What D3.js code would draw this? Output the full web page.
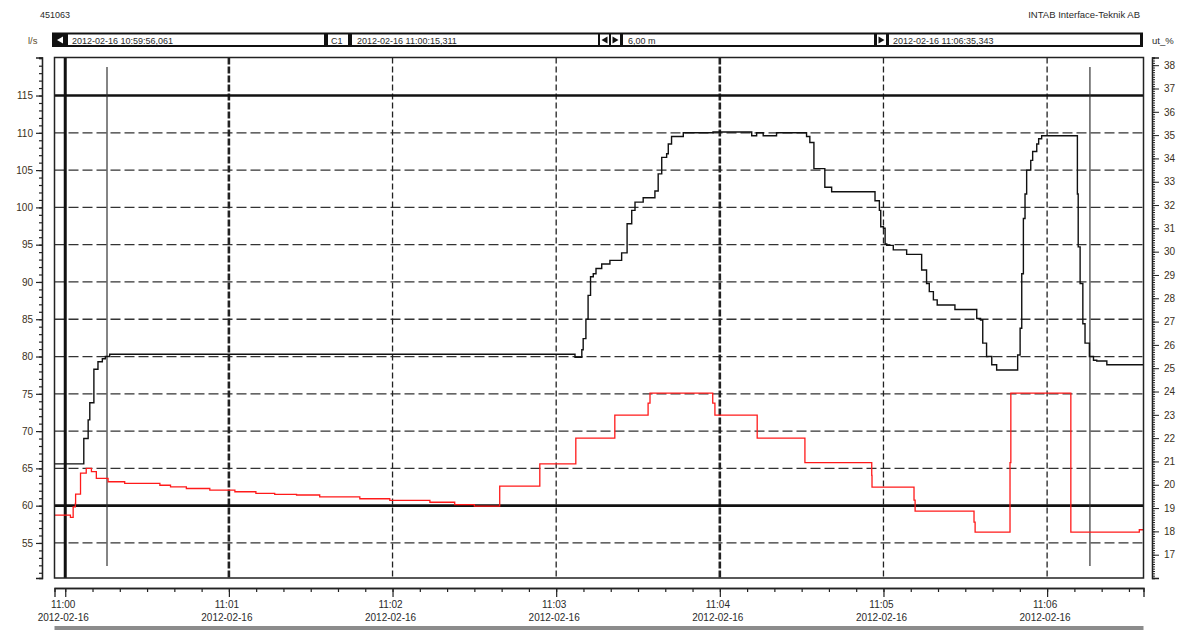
<!DOCTYPE html>
<html>
<head>
<meta charset="utf-8">
<script src="https://cdn.jsdelivr.net/npm/d3@7"></script>
<style>
  body { margin: 0; background: #fff; }
  text { font-family: "Liberation Sans", Arial, sans-serif; fill: #2a2a2a; }
</style>
</head>
<body>
<svg id="chart" width="1189" height="630"></svg>
<script>
// seconds from 11:00:00, flow in l/s (left axis)
const flowTimes = [-3.9, 6.8, 8.4, 9.0, 10.5, 12.0, 13.6, 14.7, 16.3, 186.9, 189.4, 189.9, 190.9, 191.7, 192.6, 193.6,
  194.6, 196.7, 199.7, 204.0, 206.0, 207.7, 208.9, 211.9, 216.2, 217.4, 218.7, 220.5, 221.1, 222.3, 226.6, 237.5,
  251.7, 253.5, 255.9, 260.8, 271.8, 273.0, 274.5, 278.5, 281.0, 296.9, 298.5, 299.0, 300.0, 300.6, 301.2, 303.6,
  308.5, 314.0, 315.8, 316.8, 318.3, 319.7, 326.2, 334.2, 335.6, 336.4, 337.8, 339.7, 341.5, 349.2, 350.1, 350.7,
  351.3, 351.9, 352.5, 354.0, 354.7, 356.2, 356.9, 358.0, 371.1, 371.4, 372.1, 373.1, 373.9, 375.5, 377.0, 378.2,
  381.9, 395.3];
const flowValues = [65.6, 69.0, 71.5, 73.8, 78.3, 79.3, 79.7, 80.0, 80.3, 79.9, 80.9, 82.4, 85.0, 88.2, 90.7, 91.1,
  91.8, 92.4, 92.9, 93.9, 97.8, 99.6, 100.7, 101.3, 102.2, 104.5, 106.7, 107.2, 108.5, 109.5, 110.0, 110.1,
  109.6, 110.0, 109.6, 110.0, 109.5, 108.7, 105.2, 102.7, 102.1, 100.9, 99.6, 97.4, 97.2, 95.1, 94.9, 94.3,
  93.7, 91.6, 89.8, 88.7, 87.6, 86.9, 86.3, 85.1, 84.9, 81.8, 80.0, 78.9, 78.2, 80.2, 83.8, 91.1,
  98.5, 101.8, 105.0, 106.3, 107.5, 108.5, 109.2, 109.6, 101.8, 94.7, 89.8, 84.4, 81.8, 80.0, 79.5, 79.4,
  78.9, 78.9];

// seconds from 11:00:00, output in ut_% (right axis)
const outTimes = [-3.9, 1.9, 2.9, 3.7, 3.8, 5.6, 7.7, 9.6, 11.4, 15.7, 21.8, 34.7, 38.6, 44.4, 53.0, 62.2, 69.9,
  76.8, 84.8, 93.3, 108.0, 119.0, 133.7, 142.8, 150.0, 159.3, 174.0, 187.2, 201.5, 213.7, 214.4, 237.4, 238.2,
  253.7, 271.2, 295.7, 295.8, 311.2, 311.6, 333.2, 333.6, 346.4, 346.7, 368.7, 393.8, 395.3];
const outValues = [18.7, 18.6, 19.05, 19.2, 19.6, 20.5, 20.7, 20.56, 20.27, 20.13, 20.06, 19.98, 19.91, 19.84,
  19.77, 19.7, 19.63, 19.59, 19.56, 19.48, 19.4, 19.33, 19.25, 19.15, 19.08, 19.94, 20.9, 22.0, 22.99, 23.5, 23.93,
  23.5, 22.99, 22.0, 20.95, 20.4, 19.9, 19.34, 18.87, 18.4, 17.97, 20.95, 23.93, 17.97, 18.07, 18.07];

const leftTicks = [55, 60, 65, 70, 75, 80, 85, 90, 95, 100, 105, 110, 115];
const limitValues = [60, 115];
const rightTicks = d3.range(17, 39);
const minuteTicks = [0, 60, 120, 180, 240, 300, 360];
const minuteLabels = ["11:00", "11:01", "11:02", "11:03", "11:04", "11:05", "11:06"];
const dateLabel = "2012-02-16";
const cursorTimes = [15.311, 375.7];
const headerFields = ["2012-02-16 10:59:56,061", "2012-02-16 11:00:15,311", "6,00 m", "2012-02-16 11:06:35,343"];

const svg = d3.select("#chart");
const plot = {left: 54.5, right: 1143.5, top: 57.5, bottom: 578};

const x = d3.scaleLinear().domain([-3.94, 395.34]).range([plot.left, plot.right]);
const yL = d3.scaleLinear().domain([50.3, 120.1]).range([plot.bottom, plot.top]);
const yR = d3.scaleLinear().domain([16, 38.33]).range([plot.bottom, plot.top]);

// header texts
svg.append("text").attr("x", 40).attr("y", 18).style("font-size", "9px").text("451063");
svg.append("text").attr("x", 1140).attr("y", 18).attr("text-anchor", "end").style("font-size", "9.5px")
  .text("INTAB Interface-Teknik AB");
svg.append("text").attr("x", 28).attr("y", 44).style("font-size", "9.5px").style("fill", "#5a4a2a").text("l/s");
svg.append("text").attr("x", 1152).attr("y", 44).style("font-size", "9.5px").text("ut_%");

// header strip
const strip = svg.append("g");
strip.append("rect").attr("x", 52).attr("y", 32.5).attr("width", 1091).attr("height", 14.5).attr("fill", "#111");
const boxes = [
  {x: 68, w: 256}, {x: 328, w: 20}, {x: 352, w: 246},
  {x: 600, w: 9}, {x: 611, w: 9}, {x: 623, w: 251}, {x: 877, w: 9}, {x: 889, w: 251}
];
boxes.forEach(b => strip.append("rect").attr("x", b.x).attr("y", 34.5).attr("width", b.w).attr("height", 10.5).attr("fill", "#fff"));
const tri = (cx, dir, col) => {
  const p = dir < 0 ? [[cx + 3, 36.5], [cx - 3, 40], [cx + 3, 43.5]] : [[cx - 3, 36.5], [cx + 3, 40], [cx - 3, 43.5]];
  strip.append("path").attr("d", d3.line()(p) + "Z").attr("fill", col);
};
tri(60, -1, "#fff"); tri(604.5, -1, "#111"); tri(615.5, 1, "#111"); tri(881.5, 1, "#111");
svg.append("text").attr("x", 331).attr("y", 43.8).style("font-size", "9px").text("C1");
[72, 357, 628, 893].forEach((tx, i) => {
  svg.append("text").attr("x", tx).attr("y", 43.8).style("font-size", "9px").text(headerFields[i]);
});

// grid
const grid = svg.append("g");
leftTicks.filter(v => !limitValues.includes(v)).forEach(v => {
  grid.append("line").attr("x1", plot.left).attr("x2", plot.right).attr("y1", yL(v)).attr("y2", yL(v))
    .attr("stroke", "#333").attr("stroke-width", 1.3).attr("stroke-dasharray", "10,4");
});
minuteTicks.slice(1).forEach((t, i) => {
  const heavy = t === 60 || t === 240;
  grid.append("line").attr("x1", x(t)).attr("x2", x(t)).attr("y1", plot.top).attr("y2", plot.bottom)
    .attr("stroke", "#222").attr("stroke-width", heavy ? 2.6 : 1.3).attr("stroke-dasharray", heavy ? "7,2" : "6,3");
});
limitValues.forEach(v => {
  grid.append("line").attr("x1", plot.left).attr("x2", plot.right).attr("y1", yL(v)).attr("y2", yL(v))
    .attr("stroke", "#111").attr("stroke-width", 2.6);
});
grid.append("line").attr("x1", x(0)).attr("x2", x(0)).attr("y1", plot.top).attr("y2", plot.bottom)
  .attr("stroke", "#111").attr("stroke-width", 3);
cursorTimes.forEach(t => {
  grid.append("line").attr("x1", x(t)).attr("x2", x(t)).attr("y1", 67).attr("y2", 566)
    .attr("stroke", "#333").attr("stroke-width", 1.2);
});

// series
const flowData = flowTimes.map((t, i) => [t, flowValues[i]]);
const outData = outTimes.map((t, i) => [t, outValues[i]]);
svg.append("path").datum(outData)
  .attr("d", d3.line().x(d => x(d[0])).y(d => yR(d[1])).curve(d3.curveStepAfter))
  .attr("fill", "none").attr("stroke", "#ff1a1a").attr("stroke-width", 1.3);
svg.append("path").datum(flowData)
  .attr("d", d3.line().x(d => x(d[0])).y(d => yL(d[1])).curve(d3.curveStepAfter))
  .attr("fill", "none").attr("stroke", "#111").attr("stroke-width", 1.4);

// frame
svg.append("rect").attr("x", plot.left).attr("y", plot.top).attr("width", plot.right - plot.left)
  .attr("height", plot.bottom - plot.top).attr("fill", "none").attr("stroke", "#222").attr("stroke-width", 1.5);

// left axis
const leftAxisG = svg.append("g").attr("transform", "translate(42,0)");
leftAxisG.call(d3.axisLeft(yL).tickValues(d3.range(51, 121)).tickSize(3).tickFormat(""));
leftAxisG.call(g => g.append("g").call(d3.axisLeft(yL).tickValues(leftTicks).tickSize(6).tickPadding(3)));
leftAxisG.selectAll("path.domain").attr("stroke", "#222").attr("stroke-width", 1.3);
leftAxisG.selectAll("line").attr("stroke", "#222").attr("stroke-width", 1.2);
leftAxisG.selectAll("text").style("font-size", "10px").style("fill", "#3a3020").attr("font-family", null);

// right axis
const rightAxisG = svg.append("g").attr("transform", "translate(1152,0)");
rightAxisG.call(d3.axisRight(yR).tickValues(d3.range(160, 384).map(v => v / 10)).tickSize(3).tickFormat(""));
rightAxisG.call(g => g.append("g").call(d3.axisRight(yR).tickValues(rightTicks).tickSize(7).tickPadding(5)));
rightAxisG.selectAll("path.domain").attr("stroke", "#222").attr("stroke-width", 1.3);
rightAxisG.selectAll("line").attr("stroke", "#222").attr("stroke-width", 1);
rightAxisG.selectAll("text").style("font-size", "10px").style("fill", "#3a3020").attr("font-family", null);

// bottom axis
const bottomAxisG = svg.append("g").attr("transform", "translate(0,588)");
bottomAxisG.call(d3.axisBottom(x).tickValues(d3.range(0, 396, 10)).tickSize(4).tickFormat(""));
bottomAxisG.call(g => g.append("g").call(d3.axisBottom(x).tickValues(minuteTicks).tickSize(9).tickFormat("")));
bottomAxisG.selectAll("path.domain").attr("stroke", "#222").attr("stroke-width", 1.3);
bottomAxisG.selectAll("line").attr("stroke", "#222").attr("stroke-width", 1.2);
minuteTicks.forEach((t, i) => {
  svg.append("text").attr("x", x(t) - 2).attr("y", 608).attr("text-anchor", "middle").style("font-size", "10px")
    .text(minuteLabels[i]);
  svg.append("text").attr("x", x(t) - 2).attr("y", 621).attr("text-anchor", "middle").style("font-size", "10px")
    .text(dateLabel);
});

// scroll bar
svg.append("rect").attr("x", plot.left).attr("y", 626).attr("width", plot.right - plot.left).attr("height", 4)
  .attr("fill", "#8c8c8c");
</script>
</body>
</html>
